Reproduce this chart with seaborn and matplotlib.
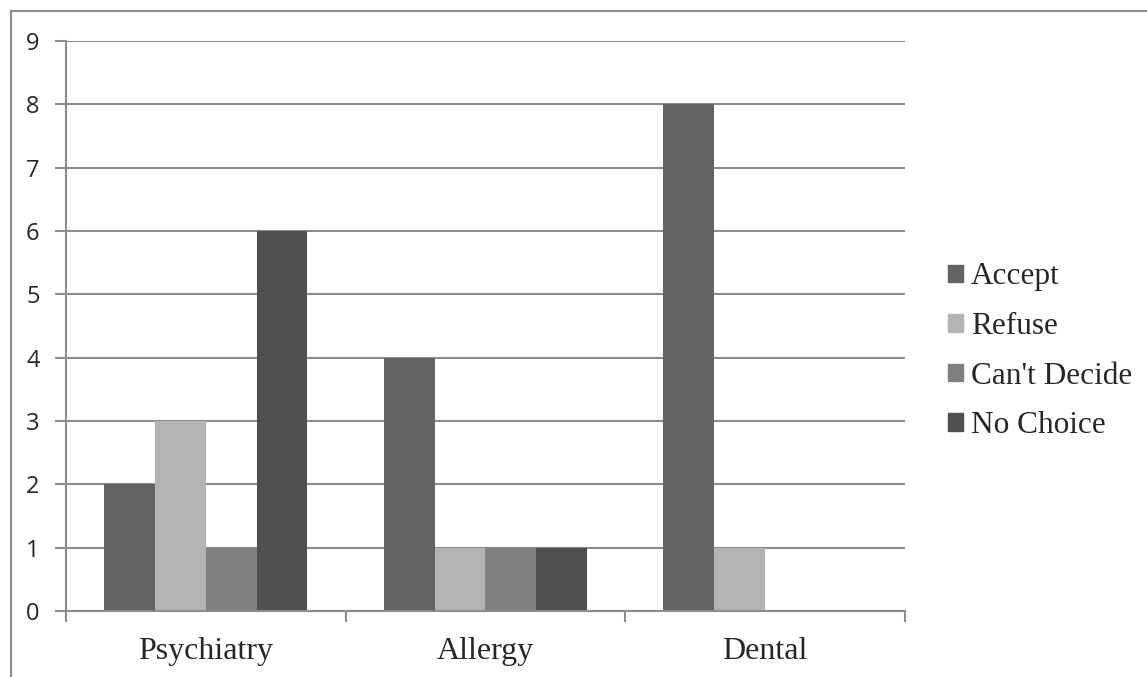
import pandas as pd
import matplotlib.pyplot as plt
import seaborn as sns
from matplotlib.lines import Line2D

# Chart data
categories = ['Psychiatry', 'Allergy', 'Dental']
series = ['Accept', 'Refuse', "Can't Decide", 'No Choice']
accept = [2, 4, 8]
refuse = [3, 1, 1]
cant_decide = [1, 1, 0]
no_choice = [6, 1, 0]
colors = ['#636363', '#b3b3b3', '#808080', '#505050']

rows = []
for name, vals in zip(series, [accept, refuse, cant_decide, no_choice]):
    for cat, v in zip(categories, vals):
        rows.append({'category': cat, 'series': name, 'value': v})
df = pd.DataFrame(rows)

sns.set_style('white')
grid_col = '#8c8c8c'

fig = plt.figure(figsize=(11.47, 6.77), dpi=100)
ax = fig.add_axes([0.0575, 0.0975, 0.7315, 0.842])

sns.barplot(data=df, x='category', y='value', hue='series', order=categories,
            hue_order=series, palette=colors, width=0.727, gap=0,
            saturation=1, linewidth=0, legend=False, ax=ax)

ax.set_xlim(-0.5, 2.5)
ax.set_ylim(0, 9)
ax.set_yticks(range(0, 10))
ax.yaxis.grid(True, color=grid_col, linewidth=1.5)
ax.set_axisbelow(True)
ax.set_xlabel('')
ax.set_ylabel('')

for side in ['top', 'right']:
    ax.spines[side].set_visible(False)
for side in ['left', 'bottom']:
    ax.spines[side].set_color(grid_col)
    ax.spines[side].set_linewidth(1.5)

ax.tick_params(axis='y', left=True, length=8, width=1.5, color=grid_col,
               pad=11, labelsize=17)
for lbl in ax.get_yticklabels():
    lbl.set_fontfamily('Open Sans')
ax.tick_params(axis='x', which='major', length=0, pad=19, labelsize=23)
ax.set_xticks([-0.5, 0.5, 1.5, 2.5], minor=True)
ax.tick_params(axis='x', which='minor', bottom=True, length=8, width=1.5,
               color=grid_col)
for lbl in ax.get_xticklabels():
    lbl.set_fontfamily('Liberation Serif')

handles = [plt.Rectangle((0, 0), 1, 1, color=c) for c in colors]
fig.legend(handles, series, loc='center left', bbox_to_anchor=(0.8155, 0.481),
           frameon=False, prop={'family': 'Liberation Serif', 'size': 22.5},
           handlelength=0.48, handleheight=0.48, handletextpad=0.25,
           labelspacing=0.66, borderaxespad=0)

# outer chart border (top and left)
fig.add_artist(Line2D([11 / 1147, 11 / 1147], [0, 1 - 11 / 677],
                      transform=fig.transFigure, color=grid_col, linewidth=1.5))
fig.add_artist(Line2D([11 / 1147, 1], [1 - 11 / 677, 1 - 11 / 677],
                      transform=fig.transFigure, color=grid_col, linewidth=1.5))

fig.savefig('out.png', dpi=100)
